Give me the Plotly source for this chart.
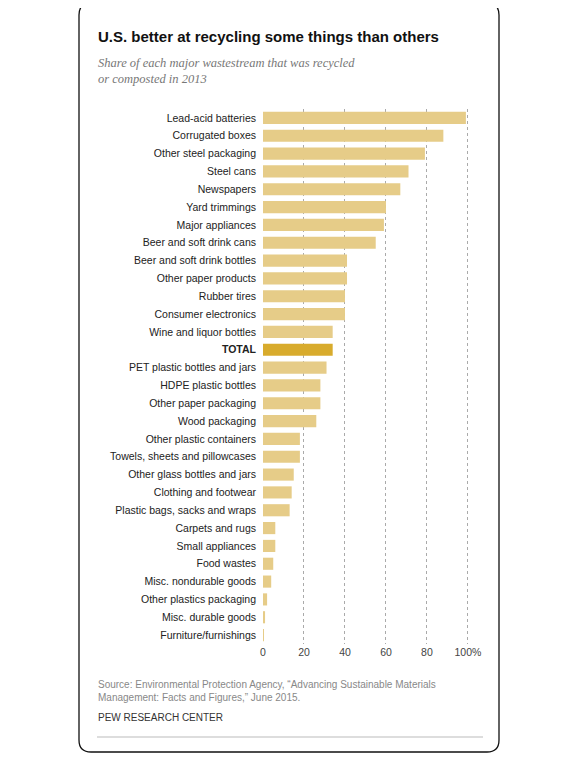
import plotly.graph_objects as go

categories = ["Lead-acid batteries","Corrugated boxes","Other steel packaging","Steel cans","Newspapers",
 "Yard trimmings","Major appliances","Beer and soft drink cans","Beer and soft drink bottles",
 "Other paper products","Rubber tires","Consumer electronics","Wine and liquor bottles","TOTAL",
 "PET plastic bottles and jars","HDPE plastic bottles","Other paper packaging","Wood packaging",
 "Other plastic containers","Towels, sheets and pillowcases","Other glass bottles and jars",
 "Clothing and footwear","Plastic bags, sacks and wraps","Carpets and rugs","Small appliances",
 "Food wastes","Misc. nondurable goods","Other plastics packaging","Misc. durable goods","Furniture/furnishings"]
values = [99,88,79,71,67,60,59,55,41,41,40,40,34,34,31,28,28,26,18,18,15,14,13,6,6,5,4,2,1,0.3]
tick_vals = [0,20,40,60,80,100]
tick_text = ["0","20","40","60","80","100%"]

colors = ["#d8ab2c" if c=="TOTAL" else "#e6cc88" for c in categories]
labels = ["<b>TOTAL</b>" if c=="TOTAL" else c for c in categories]

W, H = 578, 757
OFF = 8  # page offset
L, R, T, B = 263-OFF, W-(470-OFF), 109-OFF, H-(644-OFF)

fig = go.Figure(go.Bar(x=values, y=labels, orientation="h", marker_color=colors,
                       marker_line_width=0, hoverinfo="x+y"))
fig.update_layout(
    width=W, height=H, paper_bgcolor="white", plot_bgcolor="white",
    margin=dict(l=L, r=R, t=T, b=B),
    font=dict(family="Liberation Sans, Arial", size=10, color="#333"),
    bargap=0.32, showlegend=False,
    xaxis=dict(range=[0,101], tickvals=tick_vals, ticktext=tick_text, showgrid=True,
               gridcolor="#aaaaaa", griddash="dot", gridwidth=1, zeroline=False,
               showline=False, ticks="", tickfont=dict(size=10.5, color="#444")),
    yaxis=dict(autorange="reversed", ticks="", showline=False, tickfont=dict(size=10.5, color="#222"),
               ticklabelstandoff=6),
)
def px(x): return (x-OFF-L)/(W-L-R)
def py(y): return (H-B-(y-OFF))/(H-T-B)
x0,x1,y0,y1,r = 79,499,3,752,12
path = (f"M {px(x0+r)},{py(y0)} L {px(x1-r)},{py(y0)} Q {px(x1)},{py(y0)} {px(x1)},{py(y0+r)} "
        f"L {px(x1)},{py(y1-r)} Q {px(x1)},{py(y1)} {px(x1-r)},{py(y1)} L {px(x0+r)},{py(y1)} "
        f"Q {px(x0)},{py(y1)} {px(x0)},{py(y1-r)} L {px(x0)},{py(y0+r)} Q {px(x0)},{py(y0)} {px(x0+r)},{py(y0)} Z")
fig.add_shape(type="path", xref="paper", yref="paper", path=path, line=dict(color="#111", width=1.3))
fig.add_shape(type="line", xref="paper", yref="paper", x0=px(97), x1=px(483), y0=py(737), y1=py(737),
              line=dict(color="#bbb", width=1))

def ann(x, y, text, size, color, family="Liberation Sans, Arial"):
    fig.add_annotation(xref="paper", yref="paper", x=px(x), y=py(y), text=text, showarrow=False,
                       xanchor="left", yanchor="middle", align="left",
                       font=dict(size=size, color=color, family=family))
ann(96, 37, "<b>U.S. better at recycling some things than others</b>", 15, "#111")
ann(96, 71, "<i>Share of each major wastestream that was recycled<br>or composted in 2013</i>", 12.5, "#777",
    "Liberation Serif, Georgia, serif")
ann(96, 691, "Source: Environmental Protection Agency, “Advancing Sustainable Materials<br>Management: Facts and Figures,” June 2015.", 10, "#888")
ann(96, 718, "PEW RESEARCH CENTER", 10, "#333")

fig.write_html("out.html")
